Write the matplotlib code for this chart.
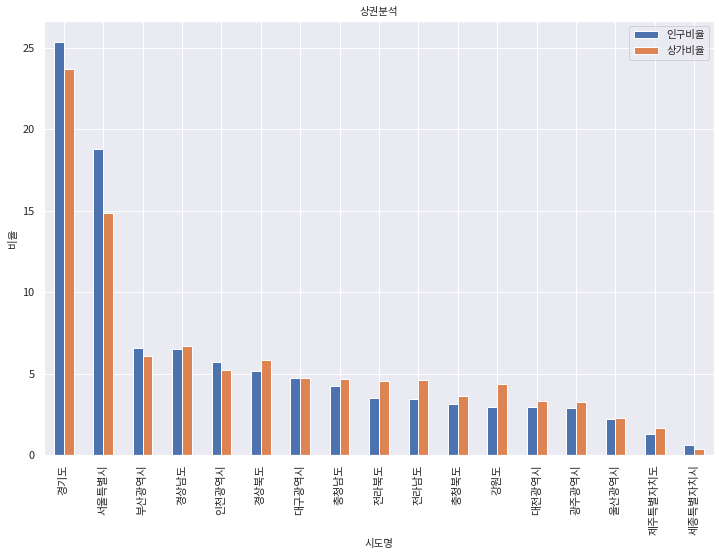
import matplotlib
matplotlib.use("Agg")
import matplotlib.pyplot as plt
import seaborn as sns
import pandas as pd

regions = ["경기도", "서울특별시", "부산광역시", "경상남도", "인천광역시", "경상북도",
           "대구광역시", "충청남도", "전라북도", "전라남도", "충청북도", "강원도",
           "대전광역시", "광주광역시", "울산광역시", "제주특별자치도", "세종특별자치시"]
pop_ratio = [25.39, 18.77, 6.57, 6.51, 5.72, 5.17, 4.74, 4.25, 3.51, 3.45,
             3.14, 2.96, 2.96, 2.90, 2.23, 1.31, 0.63]
store_ratio = [23.73, 14.85, 6.08, 6.72, 5.23, 5.84, 4.74, 4.68, 4.55, 4.61,
               3.63, 4.37, 3.33, 3.27, 2.29, 1.67, 0.39]

sns.set_theme()
plt.rcParams['font.family'] = ['Noto Sans CJK KR', 'DejaVu Sans']
plt.rcParams['axes.unicode_minus'] = False

df = pd.DataFrame({"인구비율": pop_ratio, "상가비율": store_ratio}, index=regions)
df.index.name = "시도명"

fig = plt.figure(figsize=(719 / 72, 552 / 72), dpi=72)
ax = fig.add_axes([44 / 719, 97 / 552, 670 / 719, 434 / 552])
df.plot(kind="bar", ax=ax, color=["#4C72B0", "#DD8452"])

ax.set_title("상권분석", fontsize=10.5)
ax.set_ylabel("비율", fontsize=10.5)
ax.set_xlabel("시도명", fontsize=10.5)
ax.tick_params(axis="x", labelsize=11)
ax.tick_params(axis="y", labelsize=11)
ax.legend(loc="upper right", fontsize=10.5, handlelength=2.3, labelspacing=0.55)

fig.savefig("out.png", dpi=72)
